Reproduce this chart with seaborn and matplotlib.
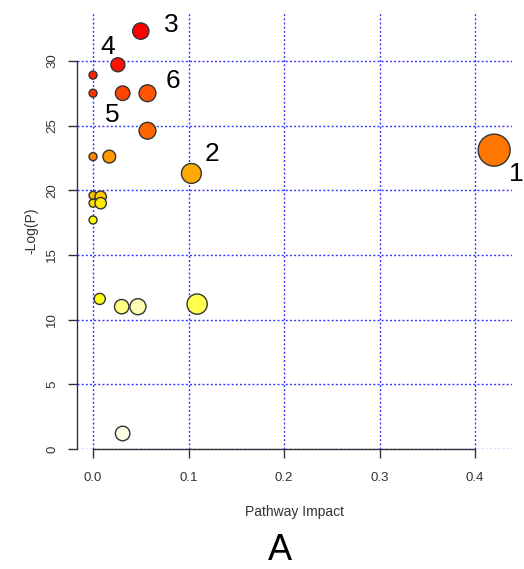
import colorsys
import numpy as np
import pandas as pd
import matplotlib
matplotlib.use("Agg")
import matplotlib.pyplot as plt
import seaborn as sns

# ---- data ----
impact = [0.050, 0.026, 0.000, 0.000, 0.031, 0.057, 0.057, 0.420, 0.000, 0.017,
          0.103, 0.000, 0.008, 0.000, 0.008, 0.000, 0.007, 0.109, 0.030, 0.047, 0.031]
neglogp = [32.3, 29.7, 28.9, 27.5, 27.5, 27.5, 24.6, 23.1, 22.6, 22.6,
           21.3, 19.6, 19.5, 19.0, 19.0, 17.7, 11.6, 11.2, 11.0, 11.0, 1.2]
# labelled pathways: index into the arrays -> label text
label_idx = [7, 10, 0, 1, 4, 5]
label_txt = ["1", "2", "3", "4", "5", "6"]
x_ticks = [0.0, 0.1, 0.2, 0.3, 0.4]
y_ticks = [0, 5, 10, 15, 20, 25, 30]

df = pd.DataFrame({"impact": impact, "logp": neglogp})
df["rank"] = df["logp"].rank(ascending=False, method="first").astype(int)


def heat_colors(n):
    j = n // 4
    i = n - j
    cols = []
    for k in range(i):
        h = (k / (i - 1)) / 6 if i > 1 else 0
        cols.append(colorsys.hsv_to_rgb(h, 1, 1))
    if j > 0:
        for s in np.linspace(1 - 1 / (2 * j), 1 / (2 * j), j):
            cols.append(colorsys.hsv_to_rgb(1 / 6, s, 1))
    return cols


pal = heat_colors(len(df))
palette = {r: pal[r - 1] for r in df["rank"]}
sizes = {v: (2 * (4 + 18.5 * np.sqrt(v)) * 72 / 100) ** 2 for v in df["impact"].unique()}

sns.set_style("white")
plt.rcParams["font.family"] = ["Liberation Sans", "DejaVu Sans"]

W, H = 524, 569
fig = plt.figure(figsize=(W / 100, H / 100), dpi=100)
ax = fig.add_axes([77 / W, 1 - 449 / H, (512 - 77) / W, (449 - 13) / H])

ax.set_xlim(-0.0168, 0.4387)
ax.set_ylim(0, 33.7)
ax.set_xticks(x_ticks)
ax.set_yticks(y_ticks)
ax.set_xticklabels([f"{v:.1f}" for v in x_ticks])
ax.set_yticklabels([str(v) for v in y_ticks], rotation=90, va="center")

for v in x_ticks:
    ax.axvline(v, color="#3030ff", lw=1.0, ls=(0, (1.4, 1.6)), zorder=0)
for v in y_ticks:
    ax.axhline(v, color="#3030ff", lw=1.0, ls=(0, (1.4, 1.6)), zorder=0)

sns.scatterplot(data=df, x="impact", y="logp", hue="rank", palette=palette,
                size="impact", sizes=sizes, edgecolor="#333333", linewidth=1.0,
                alpha=1.0, legend=False, ax=ax, zorder=3, clip_on=False)

offsets = {"1": (22, -24), "2": (21, 19), "3": (31, 6), "4": (-10, 18),
           "5": (-10, -22), "6": (25, 12)}
for i, t in zip(label_idx, label_txt):
    ax.annotate(t, (impact[i], neglogp[i]), xytext=offsets[t],
                textcoords="offset pixels", ha="center", va="center",
                fontsize=19, color="black", annotation_clip=False)

for s in ["top", "right"]:
    ax.spines[s].set_visible(False)
ax.spines["left"].set_bounds(0, 30)
ax.spines["bottom"].set_bounds(0, 0.4)
for s in ["left", "bottom"]:
    ax.spines[s].set_color("#333333")
    ax.spines[s].set_linewidth(1.0)
ax.tick_params(axis="both", which="both", direction="out", length=6.5, width=1.0,
               color="#333333", labelsize=9.5, labelcolor="#333333")
ax.tick_params(axis="x", pad=10)
ax.tick_params(axis="y", pad=7)
ax.tick_params(axis="x", bottom=True)
ax.tick_params(axis="y", left=True)

ax.set_xlabel("Pathway Impact", fontsize=10, color="#333333", labelpad=15)
ax.set_ylabel("-Log(P)", fontsize=10, color="#333333", labelpad=6)

fig.text(280 / W, 1 - 550 / H, "A", fontsize=26, ha="center", va="center", color="black")

fig.savefig("out.png", dpi=100)
